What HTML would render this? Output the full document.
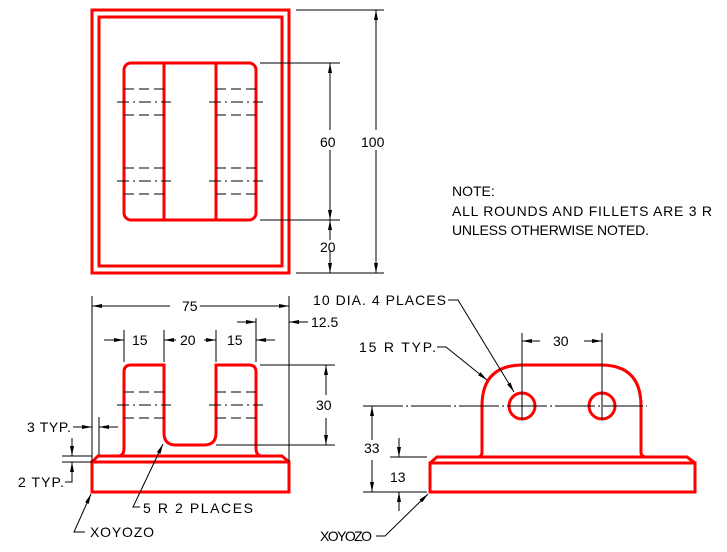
<!DOCTYPE html>
<html><head><style>body{margin:0;background:#fff}svg{display:block}text{font-family:"Liberation Sans",sans-serif;font-size:14px;fill:#000}</style></head>
<body>
<svg width="727" height="552" viewBox="0 0 727 552" xmlns="http://www.w3.org/2000/svg">
<defs>
<marker id="a" viewBox="0 0 10 4" refX="10" refY="2" markerWidth="10" markerHeight="4" markerUnits="userSpaceOnUse" orient="auto-start-reverse"><path d="M0,0L10,2L0,4z" fill="#000"/></marker>
</defs>
<g fill="none" stroke="#f00" stroke-width="3">
<rect x="92" y="10" width="197" height="263"/>
<rect x="99" y="17" width="183" height="249"/>
<rect x="124" y="63" width="132" height="157" rx="7"/>
<line x1="164" y1="63" x2="164" y2="220"/><line x1="216" y1="63" x2="216" y2="220"/>
<rect x="92" y="462" width="197" height="30"/>
<path d="M92,462L98,456H282L289,462"/>
<path d="M118,456Q124,456 124,448V372Q124,365 131,365H164V433Q164,445 176,445H204Q216,445 216,433V365H249Q256,365 256,372V448Q256,456 262,456"/>
<rect x="430" y="463" width="265" height="29"/>
<path d="M430,463L437,457H687L695,463"/>
<path d="M478,457Q482,457 482,452V406Q482,365 523,365H601Q641,365 641,406V452Q641,457 646,457"/>
<circle cx="522" cy="406" r="13"/><circle cx="602" cy="406" r="13"/>
</g>
<g fill="none" stroke="#000" stroke-width="1">
<g stroke-dasharray="10,5">
<path d="M124,89H164M124,115H164M124,168H164M124,194H164M216,89H256M216,115H256M216,168H256M216,194H256"/>
<path d="M124,392H164M124,418H164M216,392H256M216,418H256"/>
</g>
<g stroke-dasharray="12,4,2,4">
<path d="M117,102H171M209,102H263M117,181H171M209,181H263M117,405H171M209,405H263"/>
</g>
<g stroke-dasharray="40,3,2,3">
<path d="M363,406H647"/>
</g>
<path d="M522,333V420M602,333V420"/>
<path d="M296,10H384M260,63H340M260,220H340M296,273H384"/>
<line x1="376" y1="130" x2="376" y2="10" marker-end="url(#a)"/><line x1="376" y1="150" x2="376" y2="273" marker-end="url(#a)"/>
<line x1="330" y1="130" x2="330" y2="63" marker-end="url(#a)"/><line x1="330" y1="150" x2="330" y2="220" marker-end="url(#a)"/>
<line x1="330" y1="240" x2="330" y2="220" marker-end="url(#a)"/><line x1="330" y1="250" x2="330" y2="273" marker-end="url(#a)"/>
<path d="M92,296V462M289,296V462M124,330V362M164,330V362M216,330V362M256,318V362"/>
<line x1="170" y1="306" x2="92" y2="306" marker-end="url(#a)"/><line x1="200" y1="306" x2="289" y2="306" marker-end="url(#a)"/>
<line x1="104" y1="340" x2="124" y2="340" marker-end="url(#a)"/>
<line x1="176" y1="340" x2="164" y2="340" marker-end="url(#a)"/><line x1="204" y1="340" x2="216" y2="340" marker-end="url(#a)"/>
<line x1="275" y1="340" x2="256" y2="340" marker-end="url(#a)"/>
<line x1="237" y1="322" x2="256" y2="322" marker-end="url(#a)"/>
<line x1="308" y1="322" x2="289" y2="322" marker-end="url(#a)"/>
<path d="M260,365H335M216,445H335"/>
<line x1="326" y1="395" x2="326" y2="365" marker-end="url(#a)"/><line x1="326" y1="418" x2="326" y2="445" marker-end="url(#a)"/>
<path d="M99,417V455M62,456H92M62,462H92"/>
<line x1="73" y1="427" x2="92" y2="427" marker-end="url(#a)"/><line x1="118" y1="427" x2="99" y2="427" marker-end="url(#a)"/>
<line x1="72" y1="438" x2="72" y2="456" marker-end="url(#a)"/>
<polyline points="65,482 72,482 72,462" marker-end="url(#a)"/>
<polyline points="140,507 133,507 163,444" marker-end="url(#a)"/>
<polyline points="85,532 74,532 91,494" marker-end="url(#a)"/>
<line x1="540" y1="341" x2="522" y2="341" marker-end="url(#a)"/><line x1="584" y1="341" x2="602" y2="341" marker-end="url(#a)"/>
<path d="M390,457H427M363,492H427"/>
<line x1="372" y1="440" x2="372" y2="406" marker-end="url(#a)"/><line x1="372" y1="460" x2="372" y2="492" marker-end="url(#a)"/>
<line x1="399" y1="438" x2="399" y2="457" marker-end="url(#a)"/><line x1="399" y1="511" x2="399" y2="492" marker-end="url(#a)"/>
<polyline points="448,300 458,300 514,392" marker-end="url(#a)"/>
<polyline points="437,347 446,347 487,380" marker-end="url(#a)"/>
<polyline points="376,536 385,536 428,494" marker-end="url(#a)"/>
</g>
<g>
<text x="320" y="147">60</text><text x="361" y="147">100</text><text x="320" y="252">20</text>
<text x="182" y="311">75</text>
<text x="132" y="345">15</text><text x="180" y="345">20</text><text x="227" y="345">15</text>
<text x="311" y="327">12.5</text>
<text x="316" y="410">30</text>
<text x="27" y="432" textLength="44">3 TYP.</text><text x="18" y="487" textLength="46">2 TYP.</text>
<text x="143" y="513" textLength="110">5 R 2 PLACES</text>
<text x="90" y="537" textLength="64">XOYOZO</text>
<text x="313" y="305" textLength="133">10 DIA. 4 PLACES</text>
<text x="359" y="352" textLength="77">15 R TYP.</text>
<text x="553" y="346">30</text>
<text x="364" y="453">33</text><text x="390" y="482">13</text>
<text x="320" y="541" textLength="52">XOYOZO</text>
<text x="452" y="196">NOTE:</text>
<text x="452" y="216" textLength="260">ALL ROUNDS AND FILLETS ARE 3 R</text>
<text x="452" y="235" textLength="197">UNLESS OTHERWISE NOTED.</text>
</g>
</svg>
</body></html>
